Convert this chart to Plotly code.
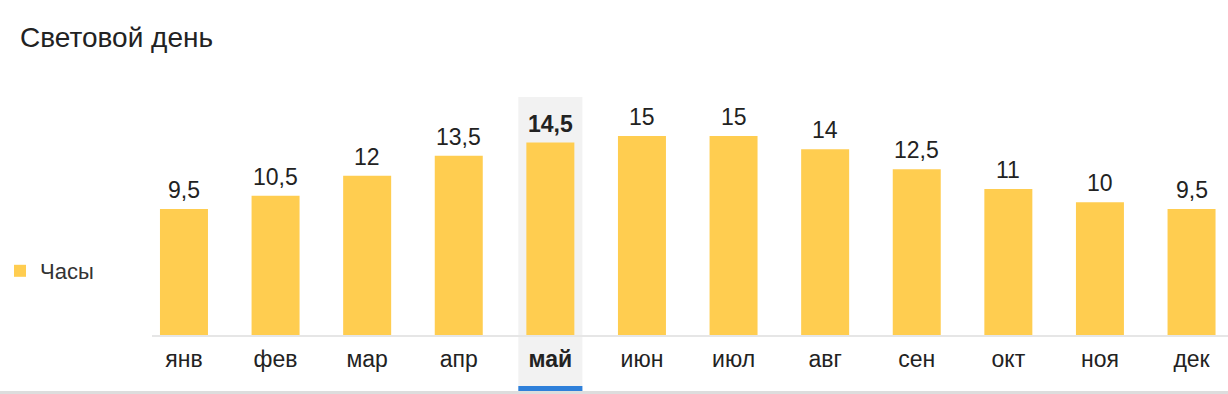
import plotly.graph_objects as go

months = ["янв", "фев", "мар", "апр", "май", "июн", "июл", "авг", "сен", "окт", "ноя", "дек"]
hours = [9.5, 10.5, 12, 13.5, 14.5, 15, 15, 14, 12.5, 11, 10, 9.5]
series_name = "Часы"
title_text = "Световой день"
current_idx = 4

W, H = 1228, 394
ML, MR, MT, MB = 152, 0, 95, 59
PW = W - ML - MR
PH = H - MT - MB
XR = [-0.349, 11.398]
YMAX = PH / 13.27

BAR = "#FFCD50"
TXT = "#222222"
FONT = "Liberation Sans, Arial, Helvetica, sans-serif"

def fmt(v):
    return ("%g" % v).replace(".", ",")

def xpaper(c):
    return (c - XR[0]) / (XR[1] - XR[0])

def ypaper_px(py):
    return (MT + PH - py) / PH

x = list(range(len(months)))
ticktext = [("<b>%s</b>" % m) if i == current_idx else m for i, m in enumerate(months)]

fig = go.Figure()
fig.add_trace(go.Bar(
    x=x, y=hours, name=series_name, marker=dict(color=BAR, line=dict(width=0)),
    width=0.524, showlegend=True, hoverinfo="skip",
))

annotations = []
for i, v in enumerate(hours):
    t = fmt(v)
    if i == current_idx:
        t = "<b>%s</b>" % t
    annotations.append(dict(
        x=i, y=v, xref="x", yref="y", text=t, showarrow=False,
        yanchor="bottom", xanchor="center", yshift=4,
        font=dict(size=23, color=TXT, family=FONT),
    ))

band_half = 0.35
shapes = [
    dict(type="rect", xref="paper", yref="paper", layer="below",
         x0=xpaper(current_idx - band_half), x1=xpaper(current_idx + band_half),
         y0=ypaper_px(386), y1=ypaper_px(97),
         fillcolor="#F2F2F2", line=dict(width=0)),
    dict(type="rect", xref="paper", yref="paper", layer="above",
         x0=xpaper(current_idx - band_half), x1=xpaper(current_idx + band_half),
         y0=ypaper_px(391), y1=ypaper_px(386),
         fillcolor="#2F80DA", line=dict(width=0)),
    dict(type="rect", xref="paper", yref="paper", layer="above",
         x0=-ML / PW, x1=1.0,
         y0=ypaper_px(394), y1=ypaper_px(391),
         fillcolor="#DDDDDD", line=dict(width=0)),
]

fig.update_layout(
    width=W, height=H,
    margin=dict(l=ML, r=MR, t=MT, b=MB, pad=0),
    paper_bgcolor="white", plot_bgcolor="white",
    font=dict(family=FONT, color=TXT),
    title=dict(text=title_text, x=20 / W, xanchor="left", xref="container",
               y=1 - 37 / H, yanchor="middle", yref="container",
               font=dict(size=28, color=TXT, family=FONT)),
    showlegend=True,
    legend=dict(x=0, xref="container", xanchor="left",
                y=1 - 271 / H, yref="container", yanchor="middle",
                font=dict(size=22, color="#333333", family=FONT),
                bgcolor="rgba(0,0,0,0)", borderwidth=0, itemwidth=30),
    xaxis=dict(range=XR, tickmode="array", tickvals=x, ticktext=ticktext,
               showgrid=False, zeroline=False, showline=True,
               linecolor="#E6E6E6", linewidth=2, ticks="",
               tickfont=dict(size=23, color=TXT, family=FONT),
               ticklabelstandoff=2, fixedrange=True),
    yaxis=dict(range=[0, YMAX], visible=False, showgrid=False, zeroline=False, fixedrange=True),
    annotations=annotations,
    shapes=shapes,
    bargap=0.476,
    hovermode=False,
)

fig.write_html(
    "out.html",
    config={"displayModeBar": False},
    post_script="document.body.style.margin='0';document.body.style.overflow='hidden';",
)
